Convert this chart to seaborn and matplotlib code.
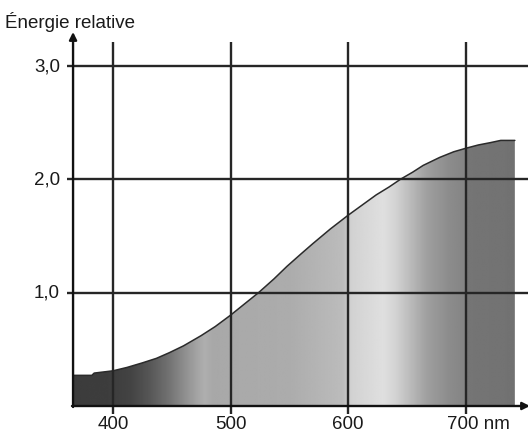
import numpy as np
import matplotlib
matplotlib.use("Agg")
import matplotlib.pyplot as plt
import seaborn as sns
from matplotlib.patches import Polygon

# ---- data ----
wavelength = [366, 382, 384, 400, 412, 425, 437, 448, 460, 475, 487, 500, 512, 524, 537, 548,
              560, 570, 585, 600, 612, 624, 635, 645, 655, 664, 678, 690, 700, 711, 721, 730, 742]
energy = [0.27, 0.27, 0.29, 0.31, 0.34, 0.38, 0.42, 0.47, 0.53, 0.62, 0.70, 0.80, 0.90, 1.00, 1.12, 1.23,
          1.34, 1.43, 1.56, 1.68, 1.77, 1.86, 1.93, 2.00, 2.06, 2.12, 2.19, 2.24, 2.27, 2.30, 2.32, 2.34, 2.34]
x_ticks = [400, 500, 600, 700]
x_tick_labels = ["400", "500", "600", "700 nm"]
y_ticks = [1.0, 2.0, 3.0]
y_tick_labels = ["1,0", "2,0", "3,0"]
y_label = "Énergie relative"

# grey shading of the area under the curve (wavelength -> grey level)
shade_wavelength = [366, 400, 415, 430, 448, 462, 472, 478, 485, 550, 596, 603, 615, 630, 640, 667, 686, 699, 701, 742]
shade_gray = [60, 62, 68, 85, 115, 145, 165, 175, 168, 172, 188, 210, 216, 223, 212, 160, 140, 133, 117, 114]

sns.set_style("white")
plt.rcParams["font.family"] = ["Liberation Sans", "DejaVu Sans"]

W, H = 528, 435
fig = plt.figure(figsize=(W / 100, H / 100), dpi=100)
# axes placed in pixels: x 60..528, y 30..420
ax = fig.add_axes([60 / W, (H - 420) / H, 468 / W, 390 / H])

def px_to_x(px):
    return 400 + (px - 113) / 117.5 * 100

def py_to_y(py):
    return (407 - py) / 113.5

x0, x1 = px_to_x(60), px_to_x(528)
y0, y1 = py_to_y(420), py_to_y(30)

# gradient fill clipped to the area under the curve
gx = np.linspace(wavelength[0], wavelength[-1], 800)
gg = np.interp(gx, shade_wavelength, shade_gray)
img = ax.imshow(gg[np.newaxis, :], extent=[wavelength[0], wavelength[-1], 0, max(energy) + 0.1],
                aspect="auto", cmap="gray", vmin=0, vmax=255, origin="lower",
                interpolation="bilinear", zorder=1)
verts = [(wavelength[0], 0)] + list(zip(wavelength, energy)) + [(wavelength[-1], 0)]
clip = Polygon(verts, closed=True, transform=ax.transData, facecolor="none", edgecolor="none")
ax.add_patch(clip)
img.set_clip_path(clip)

# curve outline
sns.lineplot(x=wavelength, y=energy, color="#2b2b2b", lw=1.1, ax=ax, zorder=3)

grid_color = "#262626"
# horizontal grid lines (start a little left of the axis, as tick stubs)
ax.hlines(y_ticks, px_to_x(67), x1, color=grid_color, lw=1.7, zorder=4, clip_on=False)
# vertical grid lines
ax.vlines(x_ticks, py_to_y(415), py_to_y(43), color=grid_color, lw=1.7, zorder=4, clip_on=False)

# axes with arrows
arrow_kw = dict(arrowstyle="-|>", color="#111111", lw=1.7, mutation_scale=11, shrinkA=0, shrinkB=0)
ax.annotate("", xy=(wavelength[0], py_to_y(33)), xytext=(wavelength[0], py_to_y(408)),
            arrowprops=arrow_kw, annotation_clip=False, zorder=5)
ax.annotate("", xy=(px_to_x(530), 0), xytext=(px_to_x(72), 0),
            arrowprops=arrow_kw, annotation_clip=False, zorder=5)

ax.set_xlim(x0, x1)
ax.set_ylim(y0, y1)
ax.set_xticks([])
ax.set_yticks([])
ax.set_xlabel("")
ax.set_ylabel("")
for s in ax.spines.values():
    s.set_visible(False)

fs = 13.5
lab_y = py_to_y(425)
for xv, lab in zip(x_ticks, x_tick_labels):
    if lab.endswith("nm"):
        ax.text(xv - 15.5, lab_y, lab, ha="left", va="center", fontsize=fs, color="#1a1a1a", clip_on=False)
    else:
        ax.text(xv, lab_y, lab, ha="center", va="center", fontsize=fs, color="#1a1a1a", clip_on=False)
for yv, lab in zip(y_ticks, y_tick_labels):
    ax.text(px_to_x(60), yv, lab, ha="right", va="center", fontsize=fs, color="#1a1a1a", clip_on=False)

fig.text(5 / W, 1 - 22 / H, y_label, ha="left", va="center", fontsize=fs, color="#1a1a1a")

fig.savefig("out.png", dpi=100, facecolor="white")
